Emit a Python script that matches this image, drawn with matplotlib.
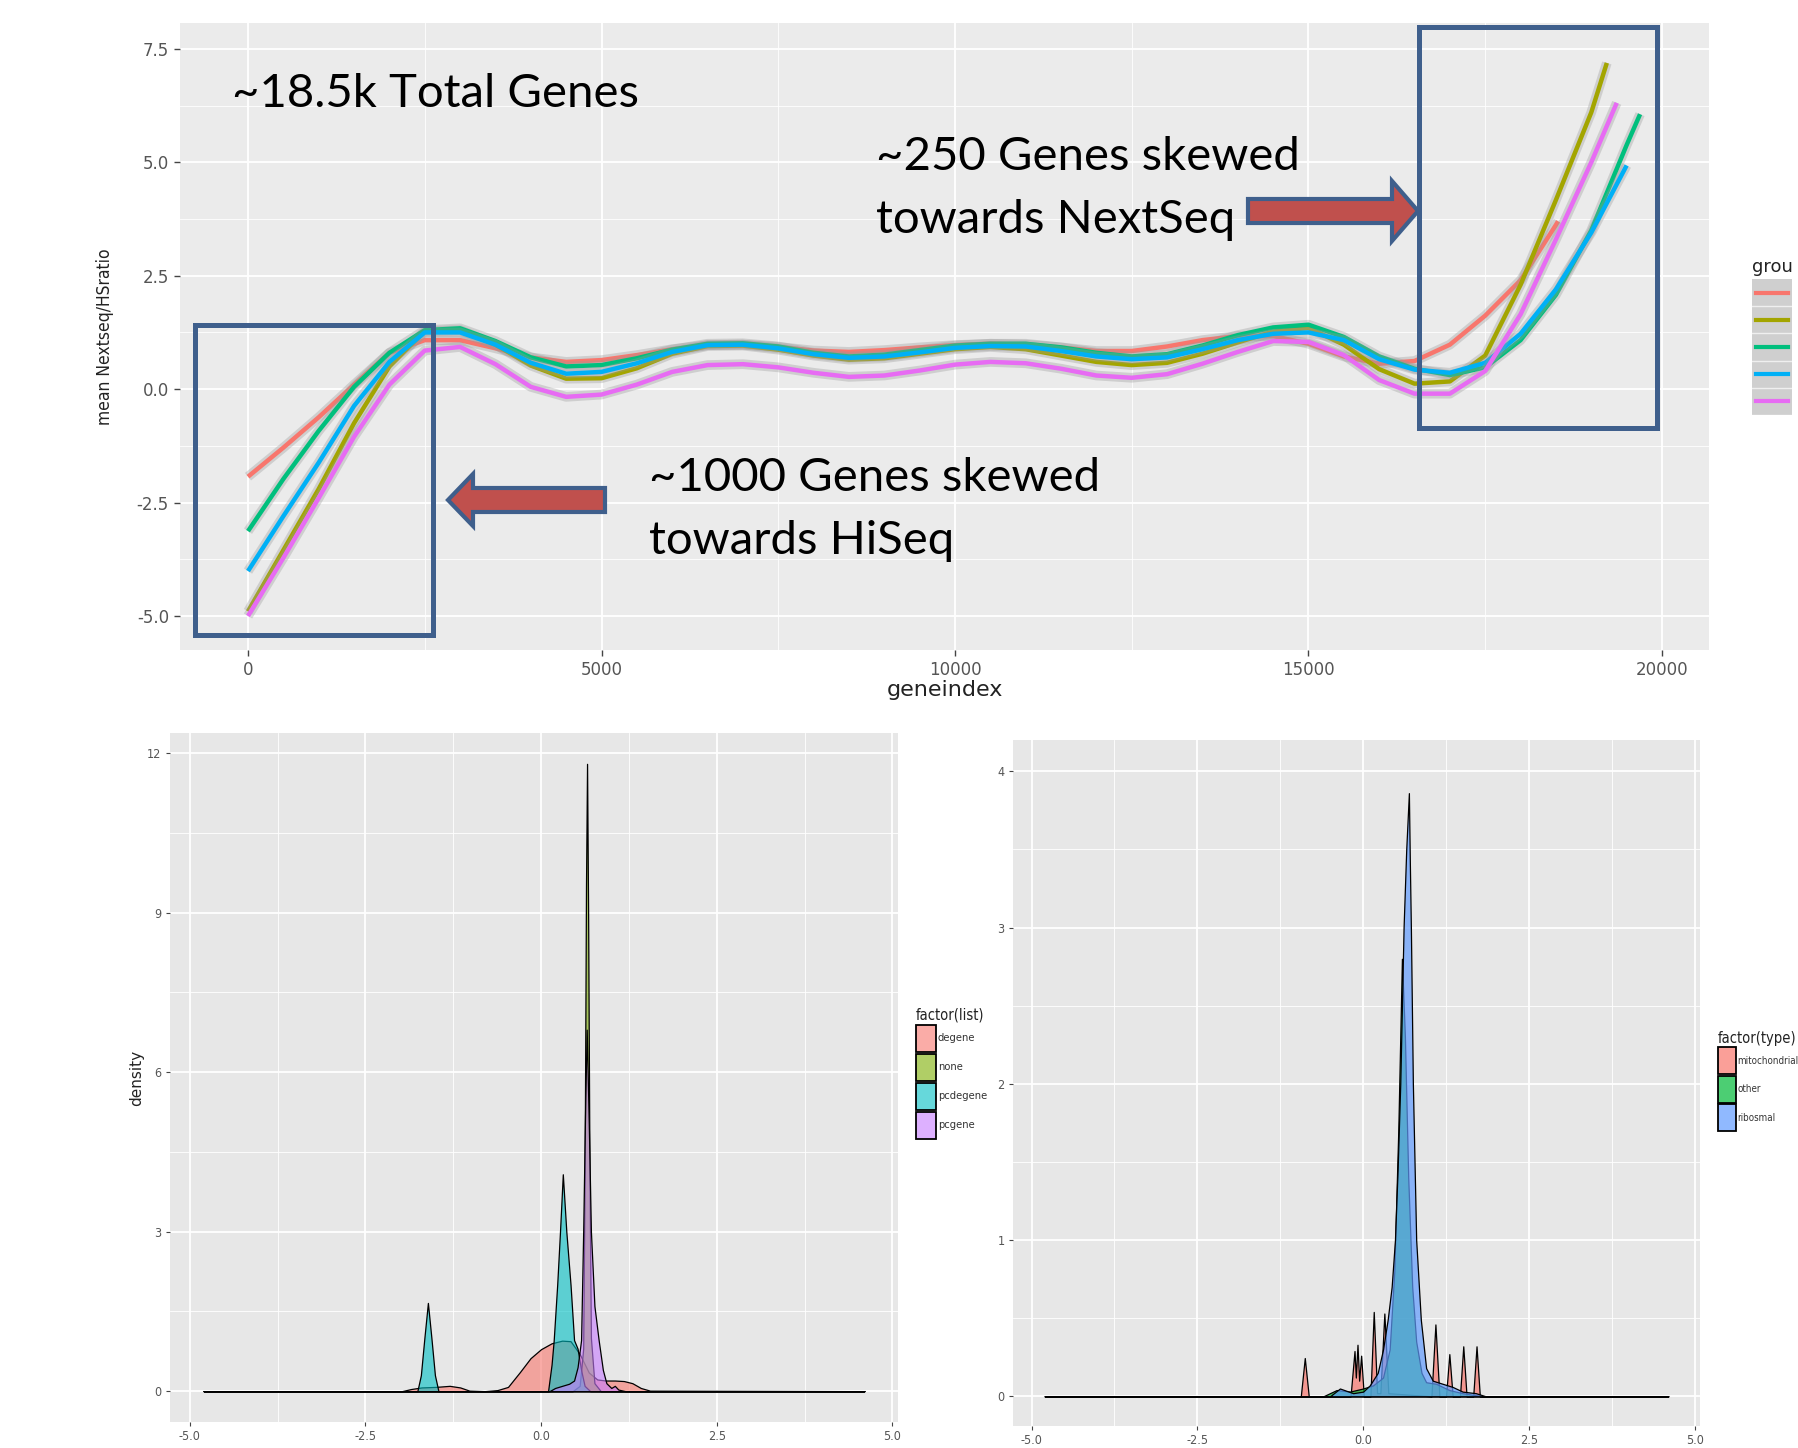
import matplotlib
matplotlib.use("Agg")
import matplotlib.pyplot as plt
from matplotlib import font_manager
from matplotlib.font_manager import FontProperties
from matplotlib.colors import to_rgba
from matplotlib.patches import Rectangle, Polygon, Patch

W, H = 1798, 1448  # output size in pixels (dpi 100)

# ---- top panel: smoothed NextSeq/HiSeq ratio along gene index ----
GENE_GRID = [0, 500, 1000, 1500, 2000, 2500, 3000, 3500, 4000, 4500,
             5000, 5500, 6000, 6500, 7000, 7500, 8000, 8500, 9000, 9500,
             10000, 10500, 11000, 11500, 12000, 12500, 13000, 13500, 14000, 14500,
             15000, 15500, 16000, 16500, 17000, 17500, 18000, 18500, 19000, 19500]
NAN = float("nan")
ratio_red = [-1.93, -1.29, -0.62, 0.1, 0.8, 1.08, 1.08, 0.9, 0.7, 0.6,
             0.64, 0.75, 0.88, 0.97, 0.98, 0.93, 0.85, 0.82, 0.86, 0.92,
             0.97, 1.0, 0.98, 0.92, 0.84, 0.84, 0.94, 1.08, 1.17, 1.17,
             1.0, 0.72, 0.56, 0.62, 0.98, 1.62, 2.4, 3.62, NAN, NAN]
ratio_olive = [-4.9, -3.55, -2.2, -0.75, 0.5, 1.28, 1.3, 0.98, 0.52, 0.23,
               0.24, 0.46, 0.78, 0.95, 0.96, 0.87, 0.74, 0.65, 0.68, 0.78,
               0.88, 0.93, 0.88, 0.74, 0.6, 0.53, 0.58, 0.78, 1.03, 1.27,
               1.35, 0.98, 0.44, 0.12, 0.17, 0.74, 2.3, 4.17, 6.1, NAN]
ratio_green = [-3.13, -1.98, -0.92, 0.05, 0.8, 1.3, 1.34, 1.06, 0.7, 0.5,
               0.53, 0.68, 0.87, 1.0, 1.01, 0.94, 0.8, 0.72, 0.76, 0.86,
               0.96, 1.0, 1.0, 0.92, 0.8, 0.72, 0.77, 0.96, 1.19, 1.36,
               1.42, 1.15, 0.72, 0.45, 0.31, 0.48, 1.08, 2.08, 3.5, 5.38]
ratio_blue = [-4.01, -2.8, -1.62, -0.37, 0.6, 1.25, 1.25, 0.98, 0.58, 0.34,
              0.38, 0.57, 0.82, 0.97, 0.98, 0.9, 0.77, 0.69, 0.72, 0.81,
              0.91, 0.95, 0.94, 0.84, 0.72, 0.66, 0.7, 0.88, 1.08, 1.22,
              1.25, 1.08, 0.66, 0.43, 0.36, 0.58, 1.22, 2.2, 3.45, NAN]
ratio_magenta = [-5.0, -3.72, -2.4, -1.05, 0.1, 0.85, 0.93, 0.55, 0.05, -0.17,
                 -0.12, 0.1, 0.38, 0.53, 0.55, 0.48, 0.36, 0.27, 0.3, 0.41,
                 0.54, 0.6, 0.57, 0.45, 0.3, 0.25, 0.33, 0.56, 0.82, 1.06,
                 1.04, 0.75, 0.2, -0.1, -0.1, 0.4, 1.65, 3.3, 5.0, NAN]
ratio_series = [ratio_red, ratio_olive, ratio_green, ratio_blue, ratio_magenta]
ratio_end_x = [18530, 19220, 19690, 19500, 19360]
ratio_end_y = [3.7, 7.19, 6.06, 4.93, 6.31]
group_colors = ["#F8766D", "#A3A500", "#00BF7D", "#00B0F6", "#E76BF3"]

# ---- bottom left: density of ratio by gene list ----
list_names = ["degene", "none", "pcdegene", "pcgene"]
list_colors = ["#F8766D", "#7CAE00", "#00BFC4", "#C77CFF"]
degene_x = [-4.8, -1.98, -1.85, -1.7, -1.5, -1.3, -1.15, -1.02, -0.8, -0.62,
            -0.47, -0.3, -0.15, 0.0, 0.15, 0.3, 0.42, 0.55, 0.68, 0.8,
            0.92, 1.05, 1.18, 1.3, 1.42, 1.55, 4.6]
degene_y = [0, 0, 0.04, 0.07, 0.08, 0.1, 0.07, 0.01, 0.0, 0.02,
            0.08, 0.36, 0.62, 0.79, 0.9, 0.95, 0.94, 0.7, 0.35, 0.22,
            0.2, 0.2, 0.19, 0.15, 0.06, 0.01, 0]
none_x = [-4.8, 0.45, 0.55, 0.6, 0.62, 0.64, 0.655, 0.67, 0.69, 0.71, 0.76, 0.85, 4.6]
none_y = [0, 0, 0.1, 0.8, 4.0, 9.5, 11.8, 9.0, 4.0, 1.0, 0.15, 0, 0]
pcdegene_x = [-4.8, -1.76, -1.71, -1.66, -1.61, -1.56, -1.51, -1.46,
              0.1, 0.15, 0.18, 0.23, 0.27, 0.31, 0.36, 0.42, 0.47, 0.52,
              0.57, 0.62, 0.7, 4.6]
pcdegene_y = [0, 0, 0.3, 1.0, 1.66, 1.0, 0.3, 0,
              0, 0.5, 0.95, 2.0, 3.0, 4.08, 3.0, 2.0, 0.96, 0.8,
              0.4, 0.1, 0, 0]
pcgene_x = [-4.8, 0.12, 0.2, 0.3, 0.4, 0.47, 0.52, 0.57, 0.6, 0.63, 0.65,
            0.68, 0.71, 0.76, 0.82, 0.88, 0.93, 1.0, 1.05, 1.1, 1.2, 4.6]
pcgene_y = [0, 0, 0.06, 0.1, 0.14, 0.2, 0.45, 0.96, 3.0, 5.5, 6.8,
            5.0, 3.0, 1.6, 0.96, 0.4, 0.15, 0.06, 0.1, 0.03, 0, 0]
list_x = [degene_x, none_x, pcdegene_x, pcgene_x]
list_y = [degene_y, none_y, pcdegene_y, pcgene_y]

# ---- bottom right: density of ratio by gene type ----
type_names = ["mitochondrial", "other", "ribosmal"]
type_colors = ["#F8766D", "#00BA38", "#619CFF"]
mito_x = [-4.8, -0.94, -0.88, -0.82, -0.19, -0.13, -0.11, -0.085, -0.06, -0.03,
          0.01, 0.11, 0.16, 0.21, 0.26, 0.32, 0.38, 1.03, 1.09, 1.15,
          1.25, 1.3, 1.35, 1.46, 1.51, 1.56, 1.66, 1.71, 1.76, 4.6]
mito_y = [0, 0, 0.245, 0, 0, 0.29, 0.12, 0.33, 0.1, 0.26,
          0, 0, 0.54, 0.02, 0.02, 0.53, 0.02, 0, 0.46, 0,
          0, 0.27, 0, 0, 0.32, 0, 0, 0.32, 0, 0]
other_x = [-4.8, -0.6, -0.4, -0.2, 0.0, 0.15, 0.3, 0.4, 0.47, 0.53, 0.585,
           0.63, 0.68, 0.74, 0.8, 0.88, 0.95, 1.1, 1.3, 1.5, 1.8, 4.6]
other_y = [0, 0, 0.04, 0.03, 0.05, 0.07, 0.12, 0.3, 0.8, 1.7, 2.8,
           2.3, 1.4, 0.7, 0.35, 0.15, 0.09, 0.08, 0.04, 0.02, 0, 0]
ribo_x = [-4.8, -0.5, -0.35, -0.15, 0.0, 0.1, 0.22, 0.3, 0.37, 0.43, 0.48,
          0.52, 0.56, 0.59, 0.61, 0.65, 0.69, 0.705, 0.72, 0.75, 0.8, 0.87,
          0.95, 1.05, 1.2, 1.35, 1.5, 1.7, 1.85, 4.6]
ribo_y = [0, 0, 0.05, 0.02, 0.03, 0.07, 0.15, 0.3, 0.49, 0.7, 1.0,
          1.45, 2.0, 2.6, 3.0, 3.5, 3.86, 3.4, 3.0, 2.0, 1.0, 0.49,
          0.18, 0.1, 0.08, 0.06, 0.03, 0.02, 0, 0]
type_x = [mito_x, other_x, ribo_x]
type_y = [mito_y, other_y, ribo_y]

DENS_TICKS = [-5, -2.5, 0, 2.5, 5]
DENS_TICK_LABELS = ["-5.0", "-2.5", "0.0", "2.5", "5.0"]


def pick_narrow():
    """ggplot export used a condensed sans; use the narrowest one installed"""
    try:
        font_manager.findfont("Liberation Sans Narrow", fallback_to_default=False)
        return {"family": "Liberation Sans Narrow"}
    except ValueError:
        pass
    path = font_manager.findfont(FontProperties(family="DejaVu Sans", stretch="condensed"))
    if "Condensed" in path:
        return {"family": "DejaVu Sans", "stretch": "condensed"}
    return {"family": "Liberation Sans"}


NARROW = pick_narrow()
CALLOUT = "Lato"
BOX_BLUE = "#3F5F8C"
ARROW_RED = "#C0504D"
plt.rcParams["axes.unicode_minus"] = False


def frac_box(l, t, r, b):
    """pixel box (top-left origin) -> figure fraction [x, y, w, h]"""
    return [l / W, 1 - b / H, (r - l) / W, (b - t) / H]


def fxy(x, y):
    return x / W, 1 - y / H


def gg_axes(rect, face):
    ax = fig.add_axes(rect)
    ax.set_facecolor(face)
    for s in ax.spines.values():
        s.set_visible(False)
    ax.set_axisbelow(True)
    ax.grid(which="major", color="white", lw=1.3)
    ax.grid(which="minor", color="white", lw=0.6)
    ax.tick_params(which="minor", length=0)
    return ax


def arrow_points(tail_x, tip_x, y, shaft_half, head_half, head_len):
    d = 1 if tip_x > tail_x else -1
    base = tip_x - d * head_len
    pts = [(tail_x, y - shaft_half), (base, y - shaft_half), (base, y - head_half),
           (tip_x, y), (base, y + head_half), (base, y + shaft_half),
           (tail_x, y + shaft_half)]
    return [fxy(px, py) for px, py in pts]


fig = plt.figure(figsize=(W / 100, H / 100), dpi=100, facecolor="white")

# ================= top panel =================
ax = gg_axes(frac_box(180, 23, 1709, 650), "#EBEBEB")
ax.set_xlim(-962, 20665)
ax.set_ylim(-5.75, 8.07)
ax.set_xticks([0, 5000, 10000, 15000, 20000])
ax.set_xticks([2500, 7500, 12500, 17500], minor=True)
ax.set_yticks([-5, -2.5, 0, 2.5, 5, 7.5])
ax.set_yticklabels(["-5.0", "-2.5", "0.0", "2.5", "5.0", "7.5"])
ax.set_yticks([-3.75, -1.25, 1.25, 3.75, 6.25], minor=True)
ax.tick_params(which="major", length=4, width=1, color="#444444",
               labelcolor="#555555", labelsize=12, pad=4)

for vals, ex, ey, col in zip(ratio_series, ratio_end_x, ratio_end_y, group_colors):
    xs = [g for g, v in zip(GENE_GRID, vals) if v == v] + [ex]
    ys = [v for v in vals if v == v] + [ey]
    ax.plot(xs, ys, color="#999999", lw=7, alpha=0.35, solid_capstyle="butt",
            solid_joinstyle="round")
    ax.plot(xs, ys, color=col, lw=3.2, solid_capstyle="butt", solid_joinstyle="round")

ax.set_xlabel("geneindex", fontsize=16, color="#222222", labelpad=1)
fig.text(*fxy(105, 337), "mean Nextseq/HSratio", rotation=90, ha="center",
         va="center", fontsize=12.5, color="#222222", **NARROW)

# legend keys for the group legend (cut off by the figure edge in the source)
fig.text(*fxy(1752, 267), "grou", fontsize=13, color="#222222", va="center")
lax = fig.add_axes(frac_box(1752, 279, 1792, 415))
lax.set_facecolor("#CFCFCF")
lax.set_xlim(0, 1)
lax.set_ylim(len(group_colors) - 0.5, -0.5)
for i, col in enumerate(group_colors):
    lax.plot([0.1, 0.9], [i, i], color=col, lw=3)
    lax.axhline(i + 0.5, color="#EFEFEF", lw=1)
lax.set_xticks([])
lax.set_yticks([])
for s in lax.spines.values():
    s.set_visible(False)

# callouts (boxes, arrows, text) on the top panel
fig.add_artist(Rectangle(fxy(195, 635), (433 - 195) / W, (635 - 325) / H,
                         transform=fig.transFigure, fill=False, ec=BOX_BLUE, lw=3.6))
fig.add_artist(Rectangle(fxy(1419, 428), (1657 - 1419) / W, (428 - 27) / H,
                         transform=fig.transFigure, fill=False, ec=BOX_BLUE, lw=3.6))
fig.add_artist(Polygon(arrow_points(1248, 1418, 211, 12, 30, 26), closed=True,
                       transform=fig.transFigure, fc=ARROW_RED, ec=BOX_BLUE, lw=3))
fig.add_artist(Polygon(arrow_points(605, 448, 500, 12, 26, 25), closed=True,
                       transform=fig.transFigure, fc=ARROW_RED, ec=BOX_BLUE, lw=3))

callout_kw = dict(family=CALLOUT, fontsize=34, color="black", ha="left", va="center")
fig.text(*fxy(232, 94), "~18.5k Total Genes", **callout_kw)
fig.text(*fxy(876, 157), "~250 Genes skewed", **callout_kw)
fig.text(*fxy(876, 220), "towards NextSeq", **callout_kw)
fig.text(*fxy(649, 478), "~1000 Genes skewed", **callout_kw)
fig.text(*fxy(649, 541), "towards HiSeq", **callout_kw)


# ================= bottom density panels =================
def density_panel(rect, xs_list, ys_list, colors, names, alpha, ylim, yticks, yminor,
                  legend_title, legend_anchor, label_size, key_width, key_height):
    a = gg_axes(rect, "#E7E7E7")
    a.set_xlim(-5.28, 5.08)
    a.set_ylim(*ylim)
    a.set_xticks(DENS_TICKS)
    a.set_xticklabels(DENS_TICK_LABELS)
    a.set_xticks([-3.75, -1.25, 1.25, 3.75], minor=True)
    a.set_yticks(yticks)
    a.set_yticks(yminor, minor=True)
    a.tick_params(which="major", length=3, width=0.8, color="#444444",
                  labelcolor="#555555", labelsize=9, pad=3)
    for lab in a.get_xticklabels() + a.get_yticklabels():
        lab.set_fontproperties(FontProperties(size=9, **NARROW))
    for xs, ys, col in zip(xs_list, ys_list, colors):
        a.fill_between(xs, 0, ys, facecolor=to_rgba(col, alpha),
                       edgecolor="black", lw=0.9)
    handles = [Patch(facecolor=to_rgba(c, alpha), edgecolor="black", lw=1.3)
               for c in colors]
    leg = a.legend(handles, names, title=legend_title, loc="upper left",
                   bbox_to_anchor=fxy(*legend_anchor), bbox_transform=fig.transFigure,
                   frameon=False, borderpad=0, borderaxespad=0,
                   handlelength=key_width, handleheight=key_height,
                   handletextpad=0.15, labelspacing=0.15, alignment="left",
                   prop=FontProperties(size=label_size, **NARROW),
                   title_fontproperties=FontProperties(size=10.5, **NARROW))
    for t in leg.get_texts():
        t.set_color("#333333")
    leg.get_title().set_color("#222222")
    return a


axl = density_panel(frac_box(170, 733, 898, 1422), list_x, list_y, list_colors,
                    list_names, 0.6, (-0.58, 12.38), [0, 3, 6, 9, 12],
                    [1.5, 4.5, 7.5, 10.5], "factor(list)", (916, 1008), 8, 1.8, 3.4)
fig.text(*fxy(137, 1078), "density", rotation=90, ha="center", va="center",
         fontsize=11, color="#222222")

axr = density_panel(frac_box(1013, 740, 1700, 1426), type_x, type_y, type_colors,
                    type_names, 0.7, (-0.19, 4.2), [0, 1, 2, 3, 4],
                    [0.5, 1.5, 2.5, 3.5], "factor(type)", (1718, 1031), 7, 1.85, 3.9)

fig.savefig("out.png", dpi=100, facecolor="white")
